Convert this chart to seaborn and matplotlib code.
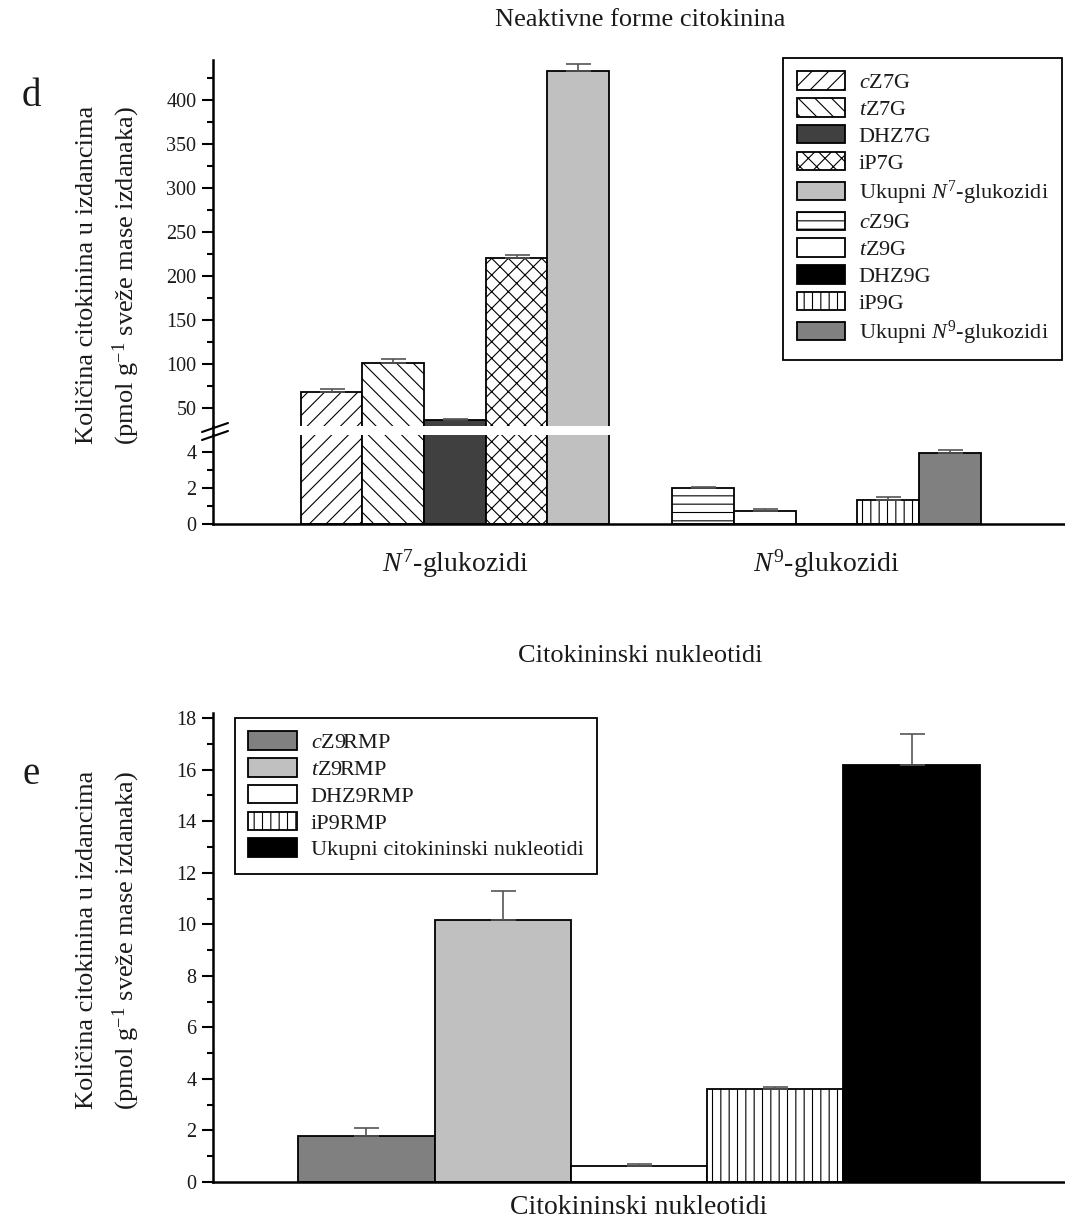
import numpy as np
import pandas as pd
import matplotlib
matplotlib.use("Agg")
import matplotlib.pyplot as plt
from matplotlib.patches import Patch
from matplotlib.lines import Line2D
from matplotlib.ticker import MultipleLocator
import seaborn as sns

# ---- data -------------------------------------------------------------
glc_groups = ["$N^7$-glukozidi", "$N^9$-glukozidi"]
n7_labels = ["$c$Z7G", "$t$Z7G", "DHZ7G", "iP7G", "Ukupni $N^7$-glukozidi"]
n9_labels = ["$c$Z9G", "$t$Z9G", "DHZ9G", "iP9G", "Ukupni $N^9$-glukozidi"]
n7_values = [68.0, 101.0, 36.5, 220.5, 433.0]
n7_errors = [3.5, 5.0, 1.5, 3.0, 8.0]
n9_values = [1.98, 0.72, 0.0, 1.32, 3.96]
n9_errors = [0.10, 0.10, 0.0, 0.16, 0.17]

nuc_group = ["Citokininski nukleotidi"]
nuc_labels = ["$c$Z9RMP", "$t$Z9RMP", "DHZ9RMP", "iP9RMP",
              "Ukupni citokininski nukleotidi"]
nuc_values = [1.78, 10.18, 0.61, 3.60, 16.19]
nuc_errors = [0.31, 1.10, 0.10, 0.09, 1.18]

# ---- bar styles -------------------------------------------------------
n7_faces = ["white", "white", "#404040", "white", "#c0c0c0"]
n7_hatches = ["//", "\\\\", "", "xx", ""]
n9_faces = ["white", "white", "black", "white", "#808080"]
n9_hatches = ["--", "", "", "||", ""]
nuc_faces = ["#808080", "#c0c0c0", "white", "white", "black"]
nuc_hatches = ["", "", "", "||", ""]

sns.set_theme(style="ticks")
plt.rcParams["font.family"] = ["Liberation Serif", "DejaVu Serif"]
plt.rcParams["mathtext.fontset"] = "custom"
plt.rcParams["mathtext.rm"] = "Liberation Serif"
plt.rcParams["mathtext.it"] = "Liberation Serif:italic"
plt.rcParams["mathtext.bf"] = "Liberation Serif:bold"
plt.rcParams["hatch.linewidth"] = 0.8
plt.rcParams["hatch.color"] = "black"
plt.rcParams["text.color"] = "#1a1a1a"

W, H = 1065, 1222
fig = plt.figure(figsize=(W / 100, H / 100), dpi=100)


def fx(px):
    return px / W


def fy(py):
    return 1 - py / H


def axes_px(left, top, right, bottom):
    return fig.add_axes([fx(left), fy(bottom), fx(right) - fx(left),
                         fy(top) - fy(bottom)])


slots = ["1", "2", "3", "4", "5"]
ERR_COLOR = "#555555"


def draw_bars(ax, groups, values_by_group, width, faces_by_group, hatches_by_group):
    df = pd.DataFrame({
        "grupa": np.repeat(groups, len(slots)),
        "oblik": slots * len(groups),
        "vrijednost": [v for vals in values_by_group for v in vals],
    })
    sns.barplot(data=df, x="grupa", y="vrijednost", hue="oblik",
                order=groups, hue_order=slots, width=width,
                palette=["white"] * len(slots), saturation=1,
                edgecolor="black", linewidth=1.3, errorbar=None,
                legend=False, ax=ax, zorder=2)
    bar_containers = list(ax.containers)
    for k, cont in enumerate(bar_containers):
        for j, bar in enumerate(cont):
            bar.set_facecolor(faces_by_group[j][k])
            bar.set_hatch(hatches_by_group[j][k])
            bar.set_edgecolor("black")
    return bar_containers


def draw_errors(ax, containers, values_by_group, errors_by_group):
    for k, cont in enumerate(containers):
        for j, bar in enumerate(cont):
            err = errors_by_group[j][k]
            if err <= 0:
                continue
            xc = bar.get_x() + bar.get_width() / 2
            ax.errorbar([xc], [values_by_group[j][k]], yerr=[[0], [err]],
                        fmt="none", ecolor=ERR_COLOR, elinewidth=1.2,
                        capsize=9, capthick=1.2, zorder=3)


def style_axis(ax):
    sns.despine(ax=ax)
    for s in ("left", "bottom"):
        ax.spines[s].set_linewidth(1.8)
        ax.spines[s].set_color("black")
    ax.tick_params(axis="y", which="major", direction="out", length=8,
                   width=1.5, labelsize=14.5, colors="black",
                   labelcolor="#1a1a1a", pad=4)
    ax.tick_params(axis="y", which="minor", direction="out", length=4,
                   width=1.5, colors="black")
    ax.set_xlabel("")
    ax.set_ylabel("")
    ax.set_facecolor("white")


LEGEND_KW = dict(fontsize=16, frameon=True, fancybox=False, framealpha=1,
                 edgecolor="black", handlelength=2.2, handleheight=0.9,
                 handletextpad=0.6, labelspacing=0.22, borderpad=0.6,
                 borderaxespad=0)

# ---- panel d: glucosides with a broken y axis -------------------------
ax_hi = axes_px(213, 60, 1065, 426)
ax_lo = axes_px(213, 435, 1065, 524)

glc_vals = [n7_values, n9_values]
glc_errs = [n7_errors, n9_errors]
glc_faces = [n7_faces, n9_faces]
glc_hatches = [n7_hatches, n9_hatches]

for ax in (ax_hi, ax_lo):
    conts = draw_bars(ax, glc_groups, glc_vals, 0.83, glc_faces, glc_hatches)
    draw_errors(ax, conts, glc_vals, glc_errs)
    style_axis(ax)
    ax.set_xlim(-0.651, 1.642)

ax_hi.set_ylim(29.5, 445.5)
ax_hi.yaxis.set_major_locator(MultipleLocator(50))
ax_hi.yaxis.set_minor_locator(MultipleLocator(25))
ax_hi.spines["bottom"].set_visible(False)
ax_hi.tick_params(axis="x", bottom=False, labelbottom=False)

ax_lo.set_ylim(0, 4.94)
ax_lo.yaxis.set_major_locator(MultipleLocator(2))
ax_lo.yaxis.set_minor_locator(MultipleLocator(1))
ax_lo.tick_params(axis="x", length=0, pad=17, labelsize=20,
                  labelcolor="#1a1a1a")

# continuous y spine across the gap plus the break marks
fig.add_artist(Line2D([fx(213), fx(213)], [fy(426), fy(435)],
                      transform=fig.transFigure, color="black", lw=1.8))
for dy in (0, 8):
    fig.add_artist(Line2D([fx(202), fx(228)], [fy(432 + dy), fy(423 + dy)],
                          transform=fig.transFigure, color="black", lw=1.5))

glc_handles = [Patch(facecolor=f, hatch=h, edgecolor="black", linewidth=1.3)
               for f, h in zip(n7_faces + n9_faces, n7_hatches + n9_hatches)]
fig.legend(glc_handles, n7_labels + n9_labels, loc="upper right",
           bbox_to_anchor=(fx(1062), fy(58)), bbox_transform=fig.transFigure,
           **LEGEND_KW).get_frame().set_linewidth(1.3)

fig.text(fx(640), fy(20), "Neaktivne forme citokinina", ha="center",
         va="center", fontsize=19)
fig.text(fx(22), fy(97), "d", ha="left", va="center", fontsize=28)
fig.text(fx(87), fy(275), "Količina citokinina u izdancima", rotation=90,
         ha="center", va="center", fontsize=19)
fig.text(fx(126), fy(275), "(pmol g$^{-1}$ sveže mase izdanaka)",
         rotation=90, ha="center", va="center", fontsize=19)

# ---- panel e: nucleotides --------------------------------------------
ax_b = axes_px(213, 713, 1065, 1182)
nuc_conts = draw_bars(ax_b, nuc_group, [nuc_values], 0.8, [nuc_faces],
                      [nuc_hatches])
draw_errors(ax_b, nuc_conts, [nuc_values], [nuc_errors])
style_axis(ax_b)
ax_b.set_xlim(-0.5, 0.5)
ax_b.set_ylim(0, 18.2)
ax_b.yaxis.set_major_locator(MultipleLocator(2))
ax_b.yaxis.set_minor_locator(MultipleLocator(1))
ax_b.tick_params(axis="x", length=0, pad=9, labelsize=20,
                 labelcolor="#1a1a1a")

nuc_handles = [Patch(facecolor=f, hatch=h, edgecolor="black", linewidth=1.3)
               for f, h in zip(nuc_faces, nuc_hatches)]
fig.legend(nuc_handles, nuc_labels, loc="upper left",
           bbox_to_anchor=(fx(235), fy(718)), bbox_transform=fig.transFigure,
           **LEGEND_KW).get_frame().set_linewidth(1.3)

fig.text(fx(640), fy(656), "Citokininski nukleotidi", ha="center",
         va="center", fontsize=19)
fig.text(fx(22), fy(775), "e", ha="left", va="center", fontsize=28)
fig.text(fx(87), fy(940), "Količina citokinina u izdancima", rotation=90,
         ha="center", va="center", fontsize=19)
fig.text(fx(126), fy(940), "(pmol g$^{-1}$ sveže mase izdanaka)",
         rotation=90, ha="center", va="center", fontsize=19)

fig.savefig("out.png", dpi=100, facecolor="white")
